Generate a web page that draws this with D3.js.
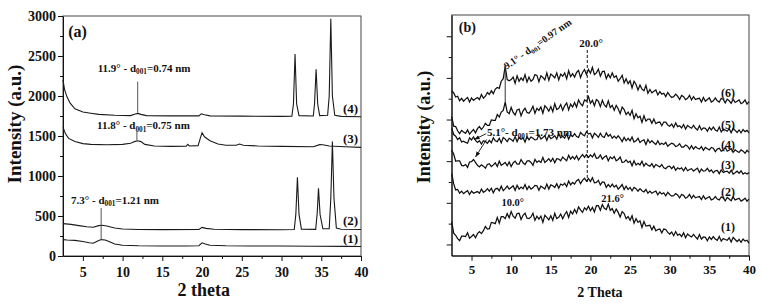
<!DOCTYPE html>
<html><head><meta charset="utf-8">
<script src="https://cdn.jsdelivr.net/npm/d3@7"></script>
<style>
body{margin:0;background:#fff}
svg{display:block}
text{font-family:"Liberation Serif","Times New Roman",serif;font-weight:bold;fill:#111}
</style>
</head><body>
<svg id="c" width="763" height="304"></svg>
<script>
// ---------------- DATA ----------------
// Panel (a): [2 theta, intensity]
const seriesA1 = [[2.5,205],[3,200],[4,195],[5,182],[5.8,165],[6.3,160],[6.8,185],[7.3,205],[7.8,200],[8.3,180],[9,150],[10,135],[12,128],[15,125],[18,125],[19.6,128],[20,165],[20.4,150],[21,135],[23,128],[26,125],[30,125],[34,122],[38,120],[40,118]];
const seriesA2 = [[2.5,405],[3.5,395],[4.5,380],[5.5,365],[6.3,360],[7,380],[7.4,385],[8,375],[9,350],[10,338],[12,332],[15,330],[19.6,332],[20,358],[20.5,345],[21.5,335],[25,330],[30,328],[31.6,332],[31.8,520],[32.0,985],[32.2,520],[32.5,335],[34.3,333],[34.5,550],[34.65,845],[34.85,520],[35.2,340],[36.0,340],[36.2,720],[36.4,1430],[36.6,720],[36.9,350],[37.5,335],[40,332]];
const seriesA3 = [[2.5,1610],[2.8,1530],[3.2,1470],[4,1430],[5,1405],[6,1395],[8,1390],[10,1395],[11,1410],[11.5,1430],[11.9,1440],[12.3,1430],[12.8,1395],[14,1375],[16,1370],[18,1372],[18.2,1395],[18.4,1375],[19.5,1380],[19.8,1480],[20,1540],[20.3,1490],[21,1440],[22,1400],[23,1385],[24.3,1385],[24.7,1400],[25.2,1385],[27,1375],[30,1370],[34,1365],[34.8,1392],[35.2,1390],[36,1375],[38,1365],[40,1358]];
const seriesA4 = [[2.5,2200],[2.7,2080],[3,1990],[3.4,1910],[4,1840],[5,1800],[6,1785],[7,1770],[9,1760],[11,1755],[11.6,1775],[11.9,1782],[12.3,1770],[13,1755],[16,1752],[19.6,1752],[19.9,1778],[20.3,1765],[21,1752],[25,1748],[30,1745],[31.3,1748],[31.5,1900],[31.7,2525],[31.9,1900],[32.2,1755],[34.0,1750],[34.15,1900],[34.35,2335],[34.55,1900],[34.8,1755],[35.8,1760],[36.0,2000],[36.2,2965],[36.4,2000],[36.7,1760],[37.5,1745],[40,1740]];
const ticksAx = [5,10,15,20,25,30,35,40];
const ticksAy = [0,500,1000,1500,2000,2500,3000];
const labelsA = ['(1)','(2)','(3)','(4)'];
const annA1 = ['7.3° - d','001','=1.21 nm'];
const annA3 = ['11.8° - d','001','=0.75 nm'];
const annA4 = ['11.9° - d','001','=0.74 nm'];

// Panel (b): sampled every 0.25 degree, 2.5 .. 40
const thetaB = [2.5,2.75,
3,3.25,3.5,3.75, 4,4.25,4.5,4.75, 5,5.25,5.5,5.75, 6,6.25,6.5,6.75, 7,7.25,7.5,7.75,
8,8.25,8.5,8.75, 9,9.25,9.5,9.75, 10,10.25,10.5,10.75, 11,11.25,11.5,11.75, 12,12.25,12.5,12.75,
13,13.25,13.5,13.75, 14,14.25,14.5,14.75, 15,15.25,15.5,15.75, 16,16.25,16.5,16.75, 17,17.25,17.5,17.75,
18,18.25,18.5,18.75, 19,19.25,19.5,19.75, 20,20.25,20.5,20.75, 21,21.25,21.5,21.75, 22,22.25,22.5,22.75,
23,23.25,23.5,23.75, 24,24.25,24.5,24.75, 25,25.25,25.5,25.75, 26,26.25,26.5,26.75, 27,27.25,27.5,27.75,
28,28.25,28.5,28.75, 29,29.25,29.5,29.75, 30,30.25,30.5,30.75, 31,31.25,31.5,31.75, 32,32.25,32.5,32.75,
33,33.25,33.5,33.75, 34,34.25,34.5,34.75, 35,35.25,35.5,35.75, 36,36.25,36.5,36.75, 37,37.25,37.5,37.75,
38,38.25,38.5,38.75, 39,39.25,39.5,39.75, 40];
const seriesB1 = [55,27, 22,14,9,20, 20,19,28,15, 19,24,16,26, 31,26,33,43, 37,38,53,52,
50,65,51,67, 67,62,74,64, 79,68,63,74, 75,60,70,75, 63,62,66,75, 58,68,61,68, 53,70,65,59,
69,58,75,62, 65,73,62,72, 79,65,80,73, 84,75,90,83, 77,88,83,92, 81,89,78,93, 93,82,96,87,
84,97,82,86, 75,85,77,66, 79,74,62,67, 58,69,51,62, 53,57,41,55, 44,45,46,35, 44,33,36,37,
28,37,36,29, 25,30,21,31, 22,25,19,28, 16,25,21,18, 24,18,13,24, 13,18,17,9, 18,12,19,13,
10,19,8,14, 12,10,16,6, 17,12,7,12, 5,13,8,10, 3];
const seriesB2 = [170,146, 131,132,123,128, 122,126,129,120, 128,123,125,127, 123,133,125,128, 134,128,135,124,
133,135,129,140, 129,134,140,133, 137,141,130,142, 133,138,134,144, 132,140,133,136, 142,141,130,140,
137,133,145,133, 143,141,137,146, 135,145,142,147, 139,152,143,149, 145,153,156,146, 154,159,152,158,
151,160,148,149, 154,143,150,149, 137,144,138,145, 138,142,133,138, 144,132,140,132, 137,129,137,134,
128,134,129,126, 132,123,128,123, 126,128,119,126, 121,124,117,125, 120,116,117,122, 119,112,120,118,
111,114,120,111, 118,112,114,115, 108,117,109,112, 115,107,109,115, 109,107,114,112, 105,113,109,105,
114,107,109,111, 104,107,111,104, 109];
const seriesB3 = [226,217, 200,201,201,190, 189,192,185,198, 199,204,197,190, 186,191,188,183, 192,194,187,191,
196,187,200,190, 193,197,189,198, 187,196,200,193, 193,204,196,192, 200,201,197,190, 204,197,201,197,
209,197,201,206, 199,207,196,206, 205,201,210,205, 201,214,205,211, 205,213,203,210, 216,209,216,209,
215,210,218,207, 208,215,205,210, 213,201,210,206, 211,201,204,210, 197,198,203,197, 200,189,201,191,
195,191,200,188, 195,190,188,194, 185,192,189,186, 192,184,182,187, 188,182,188,178, 184,181,184,177,
185,177,180,182, 176,180,183,173, 181,176,177,183, 175,179,172,177, 178,170,179,173, 175,176,171,178,
169,172,176,171, 177,169,172,169, 173];
const seriesB4 = [279,264, 260,252,256,246, 248,245,243,256, 251,258,250,245, 249,241,249,247, 243,250,244,256,
249,247,255,244, 257,253,247,255, 252,248,259,247, 257,252,256,246, 259,251,258,255, 251,252,263,253,
257,261,250,262, 254,257,261,253, 266,256,260,255, 265,253,263,259, 266,259,257,269, 264,261,271,265,
267,256,267,263, 257,267,259,257, 268,260,264,255, 260,255,261,255, 247,257,249,255, 249,258,246,249,
255,245,249,251, 240,252,244,249, 244,240,249,240, 243,240,245,236, 240,243,241,235, 237,242,234,234,
239,236,229,237, 229,235,231,229, 235,226,233,230, 227,233,231,223, 229,231,224,226, 233,224,227,230,
221,227,224,221, 227,224,219,226, 221];
const seriesB5 = [307,284, 283,273,266,274, 270,267,275,265, 271,276,268,278, 283,276,282,291, 286,286,299,298,
298,312,306,318, 322,342,318,314, 329,317,311,323, 325,309,321,327, 317,315,322,332, 315,327,322,330,
315,333,328,320, 331,319,338,324, 327,336,322,333, 340,323,337,330, 341,330,347,338, 333,347,344,355,
339,346,333,348, 344,331,346,335, 330,345,329,334, 322,334,326,314, 330,324,312,318, 310,322,302,314,
304,308,293,309, 296,301,301,291, 301,290,293,294, 285,294,294,287, 284,289,281,292, 283,285,280,288,
277,286,282,279, 286,279,275,285, 275,280,279,272, 281,275,282,275, 272,282,270,277, 275,272,278,268,
279,274,269,275, 268,276,271,274, 268];
const seriesB6 = [369,364, 354,356,345,351, 344,349,353,342, 352,346,350,353, 348,360,351,356, 365,360,369,362,
373,377,375,392, 398,428,396,393, 396,402,387,405, 392,400,394,408, 390,402,392,396, 408,406,391,405,
401,395,412,394, 409,405,400,412, 395,409,404,412, 398,417,403,410, 402,413,418,401, 413,420,408,420,
411,425,408,412, 421,404,415,416, 398,409,400,412, 401,405,392,398, 406,388,398,386, 393,376,392,384,
371,383,373,369, 382,363,372,364, 368,371,359,367, 361,363,355,365, 358,353,355,361, 356,348,358,355,
348,351,358,347, 355,348,350,351, 342,353,344,348, 352,342,345,352, 345,342,351,348, 340,349,345,339,
349,341,344,347, 338,341,347,337, 343];
const ticksBx = [5,10,15,20,25,30,35,40];
const ticksBy = [0,100,200,300,400,500];
const labelsB = ['(1)','(2)','(3)','(4)','(5)','(6)'];
const annB9 = ['9.1° - d','001','=0.97 nm'];
const annB5 = ['5.1°- d','001','=1.73 nm'];
const annB20 = '20.0°', annB10 = '10.0°', annB21 = '21.6°';

// ---------------- DRAW ----------------
const svg = d3.select('#c');
const FONT = '"Liberation Serif","Times New Roman",serif';
svg.append('defs').append('marker').attr('id','arr').attr('viewBox','0 0 6 6')
  .attr('refX',6).attr('refY',3).attr('markerWidth',6).attr('markerHeight',6)
  .attr('orient','auto').append('path').attr('d','M0,0.6L6,3L0,5.4z').attr('fill','#111');

function styleAxis(g, fs){
  g.attr('font-family',FONT).attr('font-size',fs).attr('font-weight','bold');
  g.selectAll('line').attr('stroke','#111');
  g.selectAll('path.domain').attr('stroke','#111');
}
function subText(g, x, y, parts, fs, anchor, rot){
  const t = g.append('text').attr('x',x).attr('y',y).attr('font-size',fs).attr('text-anchor',anchor||'start');
  if(rot) t.attr('transform',`rotate(${rot},${x},${y})`);
  t.append('tspan').text(parts[0]);
  t.append('tspan').attr('font-size',fs*0.66).attr('dy',fs*0.25).text(parts[1]);
  t.append('tspan').attr('dy',-fs*0.25).text(parts[2]);
}
function mids(arr){ const r=[]; for(let i=0;i<arr.length-1;i++) r.push((arr[i]+arr[i+1])/2); return r; }

// ===== Panel (a) =====
const ax = d3.scaleLinear().domain([2.5,40]).range([63,361]);
const ay = d3.scaleLinear().domain([0,3000]).range([256,16]);
const gA = svg.append('g');
gA.append('rect').attr('x',63).attr('y',16).attr('width',298).attr('height',240)
  .attr('fill','none').attr('stroke','#444').attr('stroke-width',1);
const axB = gA.append('g').attr('transform','translate(0,256)')
  .call(d3.axisBottom(ax).tickValues(ticksAx).tickSize(5).tickSizeOuter(0).tickPadding(6).tickFormat(d3.format('d')));
styleAxis(axB,14);
const axBm = gA.append('g').attr('transform','translate(0,256)')
  .call(d3.axisBottom(ax).tickValues(mids(ticksAx)).tickSize(3).tickSizeOuter(0).tickFormat(''));
styleAxis(axBm,14); axBm.select('.domain').remove();
const axL = gA.append('g').attr('transform','translate(63,0)')
  .call(d3.axisLeft(ay).tickValues(ticksAy).tickSize(5).tickSizeOuter(0).tickPadding(2).tickFormat(d3.format('d')));
styleAxis(axL,14);
const axLm = gA.append('g').attr('transform','translate(63,0)')
  .call(d3.axisLeft(ay).tickValues(mids(ticksAy)).tickSize(3).tickSizeOuter(0).tickFormat(''));
styleAxis(axLm,14); axLm.select('.domain').remove();

const lineA = d3.line().x(d=>ax(d[0])).y(d=>ay(d[1]));
[seriesA1,seriesA2,seriesA3,seriesA4].forEach(s=>{
  gA.append('path').datum(s).attr('d',lineA).attr('fill','none').attr('stroke','#1a1a1a').attr('stroke-width',1.1);
});
[[7.3,200,600],[11.8,1445,1555],[11.9,1790,2180]].forEach(([t,y0,y1])=>{
  gA.append('line').attr('x1',ax(t)).attr('x2',ax(t)).attr('y1',ay(y0)).attr('y2',ay(y1))
    .attr('stroke','#555').attr('stroke-width',1);
});
subText(gA, ax(9.05), ay(656), annA1, 11, 'middle');
subText(gA, ax(12.63), ay(1587), annA3, 11, 'middle');
subText(gA, ax(12.7), ay(2306), annA4, 11, 'middle');
const labAy = [162,387,1412,1787];
labelsA.forEach((l,i)=> gA.append('text').attr('x',ax(38.68)).attr('y',ay(labAy[i])).attr('text-anchor','middle').attr('font-size',13).text(l));
gA.append('text').attr('x',ax(3.15)).attr('y',ay(2740)).attr('font-size',16).text('(a)');
gA.append('text').attr('x',ax(20.2)).attr('y',296).attr('text-anchor','middle').attr('font-size',18).text('2 theta');
gA.append('text').attr('transform','translate(21,124) rotate(-90)').attr('text-anchor','middle').attr('font-size',19).text('Intensity (a.u.)');

// ===== Panel (b) =====
const bx = d3.scaleLinear().domain([2.5,40]).range([451.7,749]);
const by = d3.scaleLinear().domain([-27,551]).range([255.7,15]);
const gB = svg.append('g');
gB.append('rect').attr('x',451.7).attr('y',15).attr('width',297.3).attr('height',240.7)
  .attr('fill','none').attr('stroke','#444').attr('stroke-width',1);
const bxB = gB.append('g').attr('transform','translate(0,255.7)')
  .call(d3.axisBottom(bx).tickValues(ticksBx).tickSize(5).tickSizeOuter(0).tickPadding(4).tickFormat(d3.format('d')));
styleAxis(bxB,13);
const bxBm = gB.append('g').attr('transform','translate(0,255.7)')
  .call(d3.axisBottom(bx).tickValues(mids(ticksBx)).tickSize(3).tickSizeOuter(0).tickFormat(''));
styleAxis(bxBm,13); bxBm.select('.domain').remove();
const byL = gB.append('g').attr('transform','translate(451.7,0)')
  .call(d3.axisLeft(by).tickValues(ticksBy).tickSize(5).tickSizeOuter(0).tickFormat(''));
styleAxis(byL,13);
const byLm = gB.append('g').attr('transform','translate(451.7,0)')
  .call(d3.axisLeft(by).tickValues(mids(ticksBy)).tickSize(3).tickSizeOuter(0).tickFormat(''));
styleAxis(byLm,13); byLm.select('.domain').remove();

const lineB = d3.line().x(d=>bx(d[0])).y(d=>by(d[1]));
[seriesB1,seriesB2,seriesB3,seriesB4,seriesB5,seriesB6].forEach(s=>{
  const pts = thetaB.map((t,i)=>[t,s[i]]).filter(p=>p[1]!==undefined);
  gB.append('path').datum(pts).attr('d',lineB).attr('fill','none').attr('stroke','#111').attr('stroke-width',1.25);
});
gB.append('line').attr('x1',bx(19.6)).attr('x2',bx(19.6)).attr('y1',by(467)).attr('y2',by(150))
  .attr('stroke','#111').attr('stroke-width',1).attr('stroke-dasharray','3,2');
gB.append('line').attr('x1',bx(9.25)).attr('x2',bx(9.25)).attr('y1',by(428)).attr('y2',by(342))
  .attr('stroke','#333').attr('stroke-width',1);
subText(gB, bx(9.45), by(420), annB9, 10, 'start', -35);
subText(gB, bx(6.95), by(260), annB5, 11, 'start');
gB.append('line').attr('x1',bx(6.85)).attr('y1',by(266)).attr('x2',bx(5.35)).attr('y2',by(252))
  .attr('stroke','#111').attr('stroke-width',0.9).attr('marker-end','url(#arr)');
gB.append('line').attr('x1',bx(6.9)).attr('y1',by(252)).attr('x2',bx(5.5)).attr('y2',by(210))
  .attr('stroke','#111').attr('stroke-width',0.9).attr('marker-end','url(#arr)');
gB.append('text').attr('x',bx(20.07)).attr('y',by(474)).attr('text-anchor','middle').attr('font-size',11).text(annB20);
gB.append('text').attr('x',bx(10.2)).attr('y',by(92)).attr('text-anchor','middle').attr('font-size',10.5).text(annB10);
gB.append('text').attr('x',bx(22.8)).attr('y',by(102)).attr('text-anchor','middle').attr('font-size',10.5).text(annB21);
const labBy = [32,116,181,229,277,354];
labelsB.forEach((l,i)=> gB.append('text').attr('x',bx(37.35)).attr('y',by(labBy[i])).attr('text-anchor','middle').attr('font-size',12).text(l));
gB.append('text').attr('x',bx(3.4)).attr('y',by(510)).attr('font-size',14).text('(b)');
gB.append('text').attr('x',bx(21.2)).attr('y',297).attr('text-anchor','middle').attr('font-size',14).text('2 Theta');
gB.append('text').attr('transform','translate(430,127) rotate(-90)').attr('text-anchor','middle').attr('font-size',18).text('Intensity (a.u.)');
</script>
</body></html>
